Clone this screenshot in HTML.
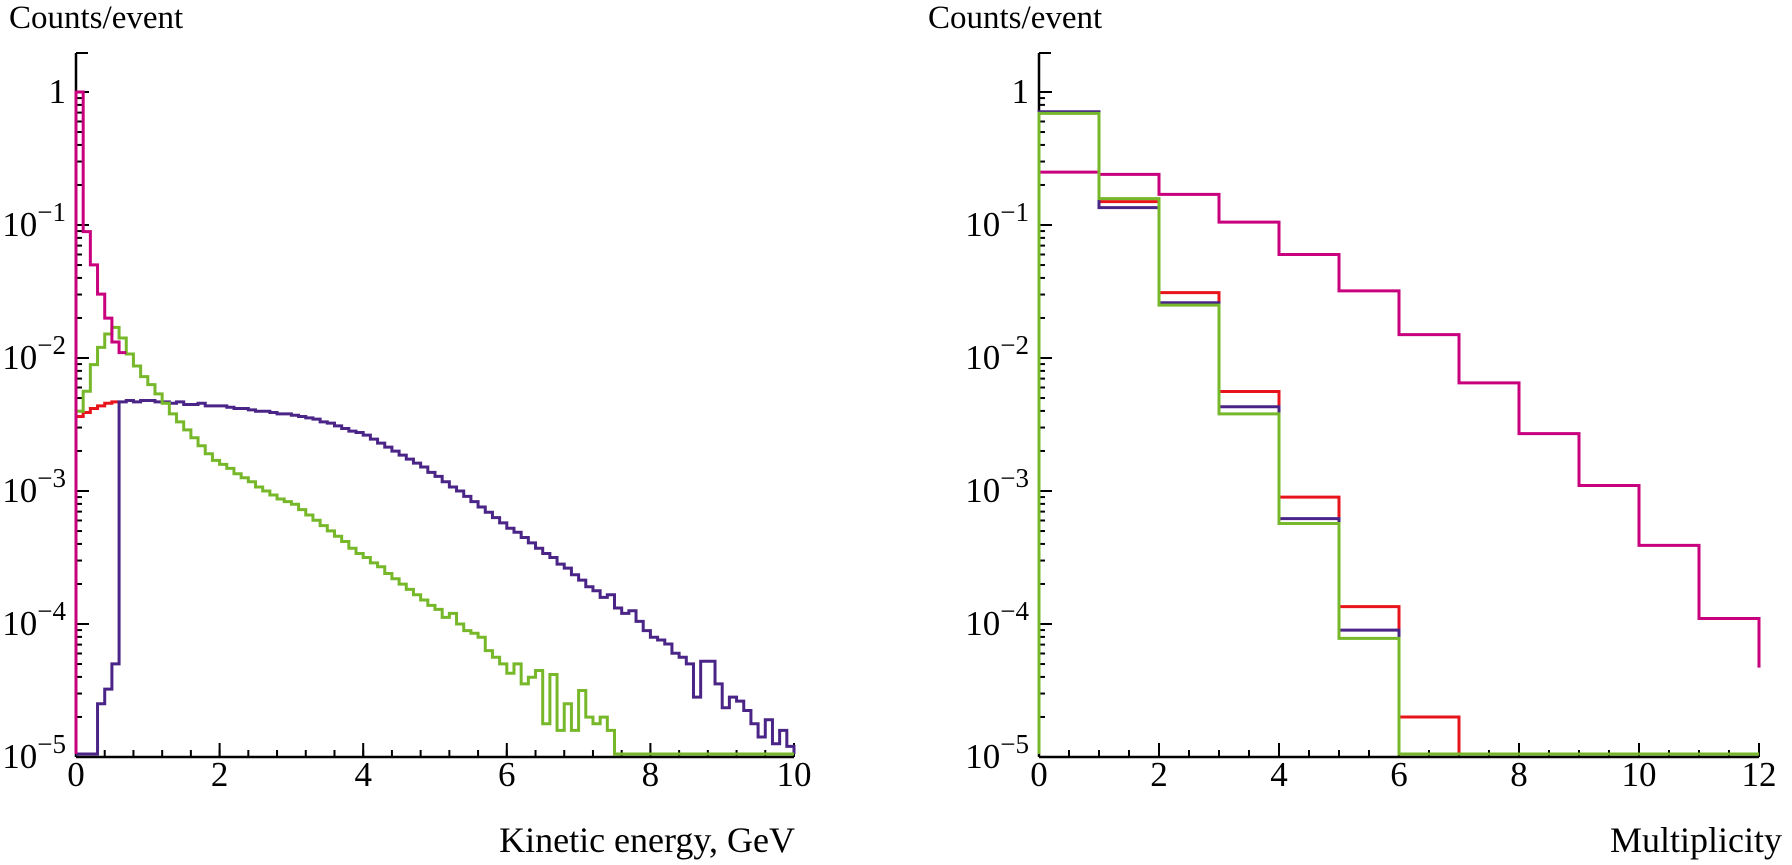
<!DOCTYPE html>
<html><head><meta charset="utf-8">
<style>
html,body{margin:0;padding:0;background:#fff;}
svg{display:block;font-family:"Liberation Serif",serif;}
</style></head>
<body>
<svg id="chart" width="1792" height="865" viewBox="0 0 1792 865" xmlns="http://www.w3.org/2000/svg">
</svg>
<script>
// ---------- Left panel data: kinetic energy spectra (log10 of counts/event), 0.1 GeV bins ----------
const energyBinWidth = 0.1;
const energyTicks = [0, 2, 4, 6, 8, 10];
const magentaLogE = [0, -1.05, -1.30, -1.52, -1.70, -1.88, -1.96];
const redLogE = [-2.44, -2.41, -2.38, -2.36, -2.34, -2.33];
const purpleLogE = [null, null, null, -4.60, -4.49, -4.30,
 -2.33, -2.32, -2.33, -2.32,
 -2.32, -2.33, -2.33, -2.34, -2.33, -2.35, -2.35, -2.34, -2.36, -2.36,
 -2.36, -2.37, -2.38, -2.38, -2.39, -2.40, -2.40, -2.41, -2.42, -2.42,
 -2.43, -2.44, -2.45, -2.46, -2.48, -2.49, -2.51, -2.53, -2.55, -2.56,
 -2.58, -2.61, -2.64, -2.67, -2.70, -2.73, -2.76, -2.79, -2.82, -2.86,
 -2.89, -2.93, -2.97, -3.00, -3.04, -3.08, -3.12, -3.16, -3.20, -3.24,
 -3.28, -3.31, -3.35, -3.39, -3.43, -3.47, -3.50, -3.55, -3.58, -3.63,
 -3.67, -3.72, -3.75, -3.80, -3.78, -3.88, -3.92, -3.90, -3.98, -4.05,
 -4.10, -4.12, -4.15, -4.22, -4.25, -4.30, -4.55, -4.28, -4.28, -4.45,
 -4.63, -4.55, -4.58, -4.65, -4.75, -4.85, -4.72, -4.90, -4.80, -4.92];
const greenLogE = [-2.40, -2.25, -2.05, -1.92, -1.82, -1.77, -1.85, -1.97, -2.06, -2.14,
 -2.20, -2.27, -2.34, -2.42, -2.48, -2.54, -2.60, -2.66, -2.72, -2.77,
 -2.80, -2.83, -2.87, -2.90, -2.93, -2.97, -3.00, -3.03, -3.06, -3.08,
 -3.10, -3.14, -3.18, -3.22, -3.26, -3.30, -3.34, -3.38, -3.43, -3.47,
 -3.50, -3.54, -3.57, -3.62, -3.66, -3.70, -3.74, -3.78, -3.82, -3.86,
 -3.89, -3.95, -3.92, -4.00, -4.05, -4.07, -4.10, -4.20, -4.25, -4.30,
 -4.37, -4.30, -4.45, -4.40, -4.35, -4.75, -4.38, -4.80, -4.60, -4.80,
 -4.50, -4.70, -4.75, -4.70, -4.80, null, null, null, null, null,
 null, null, null, null, null, null, null, null, null, null,
 null, null, null, null, null, null, null, null, null, null];

// ---------- Right panel data: multiplicity (counts/event), unit bins ----------
const multTicks = [0, 2, 4, 6, 8, 10, 12];
const magentaMult = [0.25, 0.24, 0.17, 0.105, 0.060, 0.032, 0.015, 0.0065, 0.0027, 1.1e-3, 3.9e-4, 1.1e-4];
const magentaMultEnd = 4.7e-5;
const redMult = [0.70, 0.15, 0.031, 5.6e-3, 9.0e-4, 1.35e-4, 2.0e-5, 0, 0, 0, 0, 0];
const purpleMult = [0.71, 0.135, 0.026, 4.3e-3, 6.2e-4, 9.0e-5, 0, 0, 0, 0, 0, 0];
const greenMult = [0.69, 0.158, 0.025, 3.8e-3, 5.7e-4, 7.8e-5, 0, 0, 0, 0, 0, 0];
const yDecades = [0, -1, -2, -3, -4, -5];

const NS = "http://www.w3.org/2000/svg";
const svg = document.getElementById('chart');
const COL = {magenta:'#c8007d', red:'#e8141c', purple:'#4a2587', green:'#76b82a'};

function mk(tag, attrs, parent){
  const e = document.createElementNS(NS, tag);
  for (const k in attrs) e.setAttribute(k, attrs[k]);
  (parent||svg).appendChild(e);
  return e;
}

// axis functions
const Y0 = 92, DEC = 133, YAX = 757, YTOP = 53;
function yLog(l){ return Y0 - l*DEC; }
const FLOOR_Y = YAX - 3;
function xE(v){ return 76 + v*71.8; }
function xM(v){ return 1039 + v*60.0; }

function drawAxes(xf, xmax, ticks, minorStep, name){
  const g = mk('g', {});
  
  
  const xl = xf(0), xr = xf(xmax);
  mk('line', {x1:xl, y1:YTOP, x2:xl, y2:YAX, stroke:'#000','stroke-width':2.5}, g);
  mk('line', {x1:xl, y1:YTOP, x2:xl+12, y2:YTOP, stroke:'#000','stroke-width':2}, g);
  mk('line', {x1:xl, y1:YAX, x2:xr, y2:YAX, stroke:'#000','stroke-width':2.5}, g);
  yDecades.forEach(d => {
    const y = yLog(d);
    mk('line', {x1:xl, y1:y, x2:xl+13, y2:y, stroke:'#000','stroke-width':2}, g);
    const t = mk('text', {x:xl-10, y:y+11, 'font-size':35, 'text-anchor':'end'}, g);
    
    
    if (d === 0) { t.textContent = '1'; }
    else {
      const a = mk('tspan', {}, t); a.textContent = '10';
      const b = mk('tspan', {dy:-15, 'font-size':27}, t); b.textContent = '\u2212' + (-d);
    }
    if (d > -5) for (let m = 2; m <= 9; m++) {
      const ym = yLog(d - 1 + Math.log10(m));
      mk('line', {x1:xl, y1:ym, x2:xl+6, y2:ym, stroke:'#000','stroke-width':2}, g);
    }
  });
  for (let m = 2; m <= 3; m++) {
    const ym = yLog(Math.log10(m));
    if (ym > YTOP) mk('line', {x1:xl, y1:ym, x2:xl+6, y2:ym, stroke:'#000','stroke-width':2}, g);
  }
  for (let v = 0; v <= xmax + 1e-9; v += minorStep) {
    const x = xf(v);
    mk('line', {x1:x, y1:YAX, x2:x, y2:YAX-7, stroke:'#000','stroke-width':2}, g);
  }
  ticks.forEach(v => {
    const x = xf(v);
    mk('line', {x1:x, y1:YAX, x2:x, y2:YAX-14, stroke:'#000','stroke-width':2}, g);
    const t = mk('text', {x:x, y:786, 'font-size':35, 'text-anchor':'middle'}, g);
    
    
    t.textContent = v;
  });
}

function stepPathLog(arr, xf, bw){
  let d = 'M' + xf(0) + ' ' + FLOOR_Y;
  arr.forEach((l, i) => {
    const y = (l === null) ? FLOOR_Y : yLog(l);
    d += ' L' + xf(i*bw) + ' ' + y + ' L' + xf((i+1)*bw) + ' ' + y;
  });
  return d;
}
function series(d, color, name){
  const p = mk('path', {d:d, fill:'none', stroke:color, 'stroke-width':3, 'stroke-linejoin':'miter'});
  
  
}

// ----- Left panel -----
drawAxes(xE, 10, energyTicks, 0.4, 'energy');
series(stepPathLog(redLogE, xE, energyBinWidth), COL.red, 'energy-red-series');
series(stepPathLog(purpleLogE, xE, energyBinWidth) + ' L' + xE(10) + ' ' + FLOOR_Y, COL.purple, 'energy-purple-series');
series(stepPathLog(greenLogE, xE, energyBinWidth), COL.green, 'energy-green-series');
series(stepPathLog(magentaLogE, xE, energyBinWidth), COL.magenta, 'energy-magenta-series');

// ----- Right panel -----
drawAxes(xM, 12, multTicks, 0.5, 'multiplicity');
function toLog(arr){ return arr.map(v => v > 0 ? Math.log10(v) : null); }
series(stepPathLog(toLog(magentaMult), xM, 1) + ' L' + xM(12) + ' ' + yLog(Math.log10(magentaMultEnd)), COL.magenta, 'multiplicity-magenta-series');
series(stepPathLog(toLog(redMult), xM, 1), COL.red, 'multiplicity-red-series');
series(stepPathLog(toLog(purpleMult), xM, 1), COL.purple, 'multiplicity-purple-series');
series(stepPathLog(toLog(greenMult), xM, 1), COL.green, 'multiplicity-green-series');

// ----- Titles -----
function label(txt, x, y, anchor, size, name){
  const t = mk('text', {x:x, y:y, 'font-size':size, 'text-anchor':anchor});
  
  
  t.textContent = txt;
}
label('Counts/event', 9, 28, 'start', 33, 'energy-y-axis-title');
label('Counts/event', 928, 28, 'start', 33, 'multiplicity-y-axis-title');
label('Kinetic energy, GeV', 795, 852, 'end', 36, 'energy-x-axis-title');
label('Multiplicity', 1782, 852, 'end', 36, 'multiplicity-x-axis-title');
</script>
</body></html>
